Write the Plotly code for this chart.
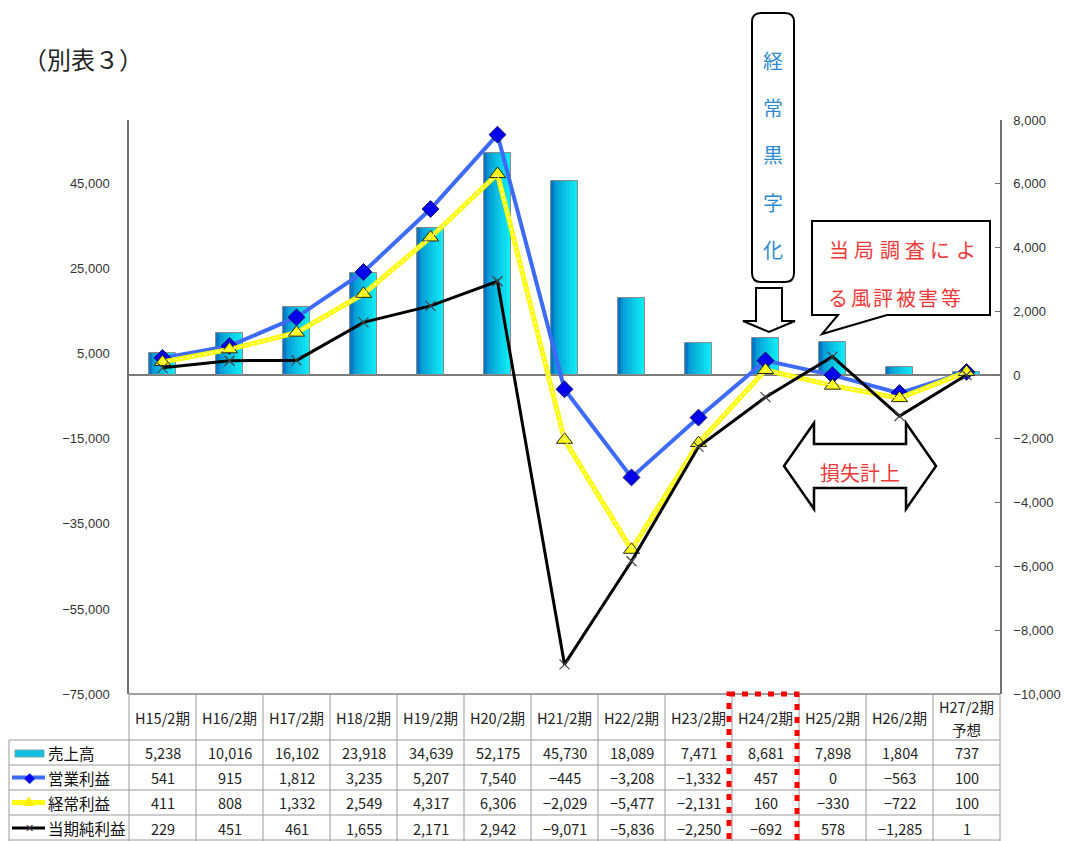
import plotly.graph_objects as go

# ---------------- data ----------------
categories = ["H15/2期", "H16/2期", "H17/2期", "H18/2期", "H19/2期", "H20/2期", "H21/2期",
              "H22/2期", "H23/2期", "H24/2期", "H25/2期", "H26/2期", "H27/2期 予想"]
header_lines = [["H15/2期"], ["H16/2期"], ["H17/2期"], ["H18/2期"], ["H19/2期"], ["H20/2期"],
                ["H21/2期"], ["H22/2期"], ["H23/2期"], ["H24/2期"], ["H25/2期"], ["H26/2期"],
                ["H27/2期", "予想"]]
sales = [5238, 10016, 16102, 23918, 34639, 52175, 45730, 18089, 7471, 8681, 7898, 1804, 737]
op_profit = [541, 915, 1812, 3235, 5207, 7540, -445, -3208, -1332, 457, 0, -563, 100]
ord_profit = [411, 808, 1332, 2549, 4317, 6306, -2029, -5477, -2131, 160, -330, -722, 100]
net_profit = [229, 451, 461, 1655, 2171, 2942, -9071, -5836, -2250, -692, 578, -1285, 1]
series_names = ["売上高", "営業利益", "経常利益", "当期純利益"]
left_ticks = [-75000, -55000, -35000, -15000, 5000, 25000, 45000]
right_ticks = [-10000, -8000, -6000, -4000, -2000, 0, 2000, 4000, 6000, 8000]

W, H = 1066, 841
PL, PR, PT, PB = 129, 1000, 120, 694  # plot area in pixels


def X(px):
    return px / W


def Y(py):
    return 1 - py / H


def fmt(v):
    return f"{v:,}".replace("-", "−")


FONT = "Noto Sans CJK JP"
NUMFONT = "Liberation Sans, Arial"

fig = go.Figure()

# ---- bars with horizontal gradient (slices) ----
N = 10
bw = 0.4
c0 = (0, 120, 198)
c1 = (15, 235, 245)
for i in range(N):
    t = (i / (N - 1)) ** 0.65
    col = "rgb(%d,%d,%d)" % tuple(round(a + (b - a) * t) for a, b in zip(c0, c1))
    off = -bw / 2 + i * bw / N
    wid = min(bw / N * 1.6, bw / 2 - off)
    fig.add_trace(go.Bar(x=categories, y=sales, width=wid, offset=off,
                         marker=dict(color=col, line=dict(width=0)), yaxis="y",
                         showlegend=False, hoverinfo="skip"))
fig.add_trace(go.Bar(x=categories, y=sales, width=bw, offset=-bw / 2, name=series_names[0],
                     marker=dict(color="rgba(0,0,0,0)", line=dict(color="#8a8a8a", width=1)),
                     yaxis="y", showlegend=False))

# ---- lines ----
fig.add_trace(go.Scatter(x=categories, y=op_profit, yaxis="y2", mode="lines+markers",
                         name=series_names[1], line=dict(color="#3D6BF7", width=4),
                         marker=dict(symbol="diamond", size=13, color="#0000EE",
                                     line=dict(color="#000033", width=0.8)),
                         showlegend=False))
fig.add_trace(go.Scatter(x=categories, y=ord_profit, yaxis="y2", mode="lines+markers",
                         name=series_names[2], line=dict(color="#FFFF00", width=5),
                         marker=dict(symbol="triangle-up", size=14, color="#FFFF00",
                                     line=dict(color="#222", width=1)),
                         showlegend=False))
fig.add_trace(go.Scatter(x=categories, y=ord_profit, yaxis="y2", mode="lines",
                         line=dict(color="#FFFFD0", width=1.2, dash="dot"),
                         showlegend=False, hoverinfo="skip"))
fig.add_trace(go.Scatter(x=categories, y=net_profit, yaxis="y2", mode="lines+markers",
                         name=series_names[3], line=dict(color="#000000", width=3),
                         marker=dict(symbol="x-thin", size=10, color="#444",
                                     line=dict(color="#444", width=1.2)),
                         showlegend=False))

shapes = []
ann = []

# ---- table ----
gray = "#9a9a9a"
colw = (PR - PL) / len(categories)
row_y = [PB, 740, 765, 790, 815, 841]
shapes.append(dict(type="line", xref="paper", yref="paper", x0=X(PL), x1=X(PR), y0=Y(PB), y1=Y(PB),
                   line=dict(color="#808080", width=1.5)))
for ry in row_y[1:-1]:
    shapes.append(dict(type="line", xref="paper", yref="paper", x0=X(9), x1=X(PR), y0=Y(ry), y1=Y(ry),
                       line=dict(color=gray, width=1)))
shapes.append(dict(type="line", xref="paper", yref="paper", x0=X(9), x1=X(PR), y0=Y(840), y1=Y(840),
                   line=dict(color=gray, width=1)))
for i in range(len(categories) + 1):
    xx = PL + i * colw
    shapes.append(dict(type="line", xref="paper", yref="paper", x0=X(xx), x1=X(xx), y0=Y(PB), y1=Y(841),
                       line=dict(color=gray, width=1)))
shapes.append(dict(type="line", xref="paper", yref="paper", x0=X(9), x1=X(9), y0=Y(740), y1=Y(841),
                   line=dict(color=gray, width=1)))

# header labels
for i, lines in enumerate(header_lines):
    if len(lines) == 1:
        ys = [717]
    else:
        ys = [706, 729]
    for txt, yy in zip(lines, ys):
        ann.append(dict(xref="paper", yref="paper", x=X(PL + (i + 0.5) * colw), y=Y(yy), text=txt,
                        showarrow=False, font=dict(family=FONT, size=14.5, color="#222"),
                        xanchor="center", yanchor="middle"))
# data rows
rows = [sales, op_profit, ord_profit, net_profit]
row_centers = [752.5, 777.5, 802.5, 828]
for r, vals in enumerate(rows):
    for i, v in enumerate(vals):
        ann.append(dict(xref="paper", yref="paper", x=X(PL + (i + 0.5) * colw), y=Y(row_centers[r]),
                        text=fmt(v), showarrow=False,
                        font=dict(family=FONT, size=14.5, color="#222"),
                        xanchor="center", yanchor="middle"))
    ann.append(dict(xref="paper", yref="paper", x=X(46), y=Y(row_centers[r]), text=series_names[r],
                    showarrow=False, font=dict(family=FONT, size=15.5, color="#111"),
                    xanchor="left", yanchor="middle"))

# legend keys in table
shapes.append(dict(type="rect", xref="paper", yref="paper", x0=X(15), x1=X(44), y0=Y(750), y1=Y(757),
                   fillcolor="#10BEE6", line=dict(color="#7aa", width=1)))
key_cols = ["#3D6BF7", "#FFFF00", "#000000"]
key_w = [4, 5, 3]
for k in range(3):
    yy = row_centers[k + 1]
    shapes.append(dict(type="line", xref="paper", yref="paper", x0=X(12), x1=X(45), y0=Y(yy), y1=Y(yy),
                       line=dict(color=key_cols[k], width=key_w[k])))
ann.append(dict(xref="paper", yref="paper", x=X(29), y=Y(777.5), text="◆", showarrow=False,
                font=dict(family=FONT, size=11, color="#0000EE"), xanchor="center", yanchor="middle"))
ann.append(dict(xref="paper", yref="paper", x=X(29), y=Y(801.5), text="▲", showarrow=False,
                font=dict(family=FONT, size=12, color="#FFEE00"), xanchor="center", yanchor="middle"))
ann.append(dict(xref="paper", yref="paper", x=X(29), y=Y(828), text="✕", showarrow=False,
                font=dict(family="DejaVu Sans", size=11, color="#333"), xanchor="center", yanchor="middle"))

# red dotted highlight around H24
shapes.append(dict(type="rect", xref="paper", yref="paper", x0=X(729), x1=X(797), y0=Y(694), y1=Y(848),
                   line=dict(color="#FF0000", width=5, dash="6px,7px"), fillcolor="rgba(0,0,0,0)"))

# ---- title ----
ann.append(dict(xref="paper", yref="paper", x=X(21), y=Y(58), text="（別表３）", showarrow=False,
                font=dict(family=FONT, size=24, color="#222"), xanchor="left", yanchor="middle"))


def path(points):
    return "M " + " L ".join(f"{X(a):.5f},{Y(b):.5f}" for a, b in points) + " Z"


# rounded box for 経常黒字化
x0, x1, y0, y1, rr = 752, 794, 13, 282, 9
rb = (f"M {X(x0 + rr)},{Y(y0)} L {X(x1 - rr)},{Y(y0)} Q {X(x1)},{Y(y0)} {X(x1)},{Y(y0 + rr)} "
      f"L {X(x1)},{Y(y1 - rr)} Q {X(x1)},{Y(y1)} {X(x1 - rr)},{Y(y1)} "
      f"L {X(x0 + rr)},{Y(y1)} Q {X(x0)},{Y(y1)} {X(x0)},{Y(y1 - rr)} "
      f"L {X(x0)},{Y(y0 + rr)} Q {X(x0)},{Y(y0)} {X(x0 + rr)},{Y(y0)} Z")
shapes.append(dict(type="path", xref="paper", yref="paper", path=rb, fillcolor="white",
                   line=dict(color="#000", width=2)))
for ch, cy in zip("経常黒字化", [60, 107, 154, 202, 249]):
    ann.append(dict(xref="paper", yref="paper", x=X(773), y=Y(cy), text=ch, showarrow=False,
                    font=dict(family=FONT, size=20, color="#2F8BD0"), xanchor="center", yanchor="middle"))

# down block arrow
shapes.append(dict(type="path", xref="paper", yref="paper",
                   path=path([(756, 288), (782, 288), (782, 321), (795, 321), (769, 332), (743, 321), (756, 321)]),
                   fillcolor="white", line=dict(color="#000", width=2)))

# callout box
shapes.append(dict(type="path", xref="paper", yref="paper",
                   path=path([(812, 221), (990, 221), (990, 315), (887, 315), (822, 334), (838, 315), (812, 315)]),
                   fillcolor="white", line=dict(color="#000", width=2)))
for i, ch in enumerate("当局調査によ"):
    ann.append(dict(xref="paper", yref="paper", x=X(839 + i * 25.3), y=Y(250), text=ch, showarrow=False,
                    font=dict(family=FONT, size=20, color="#F03A3A"), xanchor="center", yanchor="middle"))
for i, ch in enumerate("る風評被害等"):
    ann.append(dict(xref="paper", yref="paper", x=X(838 + i * 22.6), y=Y(297), text=ch, showarrow=False,
                    font=dict(family=FONT, size=20, color="#F03A3A"), xanchor="center", yanchor="middle"))

# double arrow
shapes.append(dict(type="path", xref="paper", yref="paper",
                   path=path([(784, 466), (814, 423), (814, 444), (906, 444), (906, 423), (936, 466),
                              (906, 509), (906, 488), (814, 488), (814, 509)]),
                   fillcolor="white", line=dict(color="#000", width=2.5)))
ann.append(dict(xref="paper", yref="paper", x=X(860), y=Y(472), text="損失計上", showarrow=False,
                font=dict(family=FONT, size=20, color="#F03A3A"), xanchor="center", yanchor="middle"))

fig.update_layout(
    width=W, height=H,
    margin=dict(l=0, r=0, t=0, b=0, pad=0),
    paper_bgcolor="white", plot_bgcolor="white",
    barmode="overlay", bargap=0,
    showlegend=False,
    xaxis=dict(type="category", domain=[X(PL), X(PR)], range=[-0.5, len(categories) - 0.5],
               showticklabels=False, showgrid=False, zeroline=False, showline=False, ticks="",
               fixedrange=True),
    yaxis=dict(domain=[Y(PB), Y(PT)], range=[-75000, 60000], tickvals=left_ticks,
               ticktext=[fmt(v) for v in left_ticks], showgrid=False, zeroline=True,
               zerolinecolor="#7a7a7a", zerolinewidth=2, showline=True, linecolor="#707070",
               linewidth=1.5, ticks="", ticklabelstandoff=15, automargin=False,
               tickfont=dict(family=NUMFONT, size=13, color="#333")),
    yaxis2=dict(overlaying="y", side="right", anchor="x", range=[-10000, 8000], tickvals=right_ticks,
                ticktext=[fmt(v) for v in right_ticks], showgrid=False, zeroline=False,
                showline=True, linecolor="#707070", linewidth=1.5, ticks="inside", ticklen=5,
                tickcolor="#707070", ticklabelstandoff=9, automargin=False,
                tickfont=dict(family=NUMFONT, size=13, color="#333")),
    shapes=shapes,
    annotations=ann,
)

fig.write_html("out.html")
